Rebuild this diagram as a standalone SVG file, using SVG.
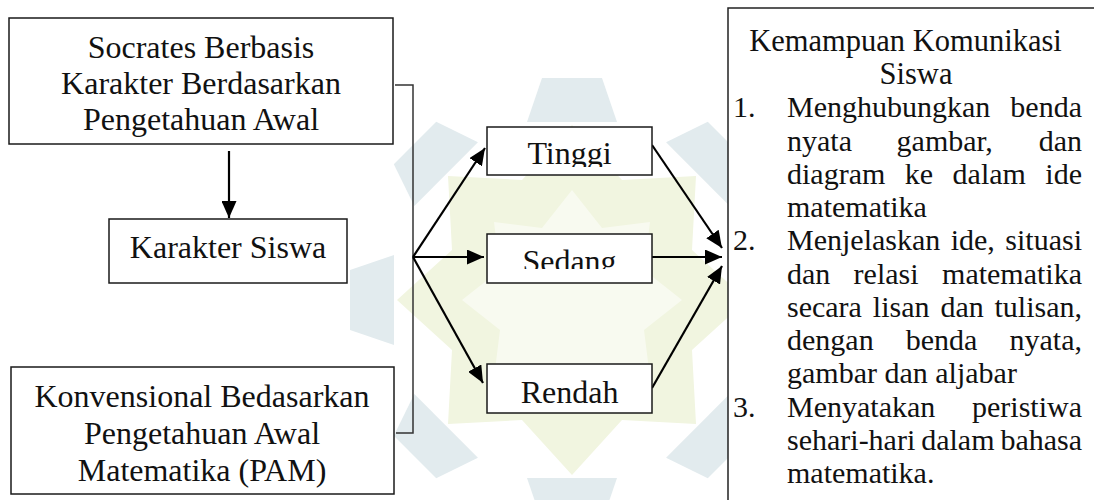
<svg xmlns="http://www.w3.org/2000/svg" width="1094" height="500" viewBox="0 0 1094 500">
<style>
.box{fill:#fff;stroke:#1a1a1a;stroke-width:1.5}
.t{font-family:"Liberation Serif","Times New Roman",serif;font-size:32px;fill:#111}
.r{font-family:"Liberation Serif","Times New Roman",serif;font-size:30px;fill:#111}
.h{font-size:30.5px}
.c{text-anchor:middle}
.e{text-anchor:end}
.ln{stroke:#000;stroke-width:2.2;fill:none}
.br{stroke:#333;stroke-width:1.5;fill:none}
.wb{fill:#e2ebee}
.wy{fill:#f1f5e0}
</style>
<defs>
<marker id="ah" markerUnits="userSpaceOnUse" markerWidth="17" markerHeight="15" viewBox="0 0 17 15" refX="17" refY="7.5" orient="auto">
<path d="M0,0 L17,7.5 L0,15 z" fill="#000"/>
</marker>
<clipPath id="clipT"><rect x="487" y="127" width="165" height="40"/></clipPath>
<clipPath id="clipS"><rect x="487" y="234" width="165" height="35"/></clipPath>
</defs>
<rect width="1094" height="500" fill="#fff"/>
<g id="watermark">
<g transform="translate(572,300)">
<polygon class="wy" points="0,-175 50,-120 124,-124 120,-50 175,0 120,50 124,124 50,120 0,175 -50,120 -124,124 -120,50 -175,0 -120,-50 -124,-124 -50,-120"/>
<polygon fill="#f8faf0" points="0,-110 30,-72 78,-78 72,-30 110,0 72,30 78,78 30,72 0,110 -30,72 -78,78 -72,30 -110,0 -72,-30 -78,-78 -30,-72"/>
<g class="wb">
<polygon points="-45,-178 45,-178 30,-222 -30,-222" transform="rotate(0)"/>
<polygon points="-45,-178 45,-178 30,-222 -30,-222" transform="rotate(45)"/>
<polygon points="-45,-178 45,-178 30,-222 -30,-222" transform="rotate(90)"/>
<polygon points="-45,-178 45,-178 30,-222 -30,-222" transform="rotate(135)"/>
<polygon points="-45,-178 45,-178 30,-222 -30,-222" transform="rotate(180)"/>
<polygon points="-45,-178 45,-178 30,-222 -30,-222" transform="rotate(225)"/>
<polygon points="-45,-178 45,-178 30,-222 -30,-222" transform="rotate(270)"/>
<polygon points="-45,-178 45,-178 30,-222 -30,-222" transform="rotate(315)"/>
</g>
</g>
</g>
<g id="connectors">
<line class="ln" x1="229" y1="151" x2="229" y2="218" marker-end="url(#ah)"/>
<polyline class="br" points="395,85 413,85 413,433 396,433"/>
<line class="ln" x1="413" y1="257" x2="485" y2="148" marker-end="url(#ah)"/>
<line class="ln" x1="413" y1="257" x2="484" y2="257" marker-end="url(#ah)"/>
<line class="ln" x1="413" y1="257" x2="483" y2="383" marker-end="url(#ah)"/>
<line class="ln" x1="652" y1="145" x2="722" y2="248" marker-end="url(#ah)"/>
<line class="ln" x1="652" y1="257" x2="722" y2="257" marker-end="url(#ah)"/>
<line class="ln" x1="652" y1="388" x2="722" y2="266" marker-end="url(#ah)"/>
</g>
<g id="socrates">
<rect class="box" x="9" y="18" width="384" height="126"/>
<text class="t c" x="201" y="58">Socrates Berbasis</text>
<text class="t c" x="201" y="94">Karakter Berdasarkan</text>
<text class="t c" x="201" y="130">Pengetahuan Awal</text>
</g>
<g id="karakter">
<rect class="box" x="109" y="219" width="238" height="64"/>
<text class="t c" x="228" y="258">Karakter Siswa</text>
</g>
<g id="konvensional">
<rect class="box" x="11" y="367" width="383" height="127"/>
<text class="t c" x="202" y="407">Konvensional Bedasarkan</text>
<text class="t c" x="202" y="444">Pengetahuan Awal</text>
<text class="t c" x="202" y="481">Matematika (PAM)</text>
</g>
<g id="tinggi">
<rect class="box" x="487" y="127" width="165" height="48"/>
<text class="t c" x="569.5" y="164" clip-path="url(#clipT)">Tinggi</text>
</g>
<g id="sedang">
<rect class="box" x="487" y="234" width="165" height="49"/>
<text class="t c" x="569.5" y="272" clip-path="url(#clipS)">Sedang</text>
</g>
<g id="rendah">
<rect class="box" x="487" y="364" width="165" height="49"/>
<text class="t c" x="569.5" y="403">Rendah</text>
</g>
<g id="kemampuan">
<rect x="728" y="8" width="370" height="500" fill="#fff"/>
<polyline class="br" style="stroke:#222" points="728,500 728,8 1094,8"/>
<text class="r h c" x="905.5" y="51">Kemampuan Komunikasi</text>
<text class="r h c" x="916" y="84">Siswa</text>
<text class="r" x="733" y="117">1.</text>
<text class="r" x="787" y="117">Menghubungkan</text><text class="r e" x="1082" y="117">benda</text>
<text class="r" x="787" y="150.5">nyata</text><text class="r" x="896.6" y="150.5">gambar,</text><text class="r e" x="1082" y="150.5">dan</text>
<text class="r" x="787" y="184">diagram</text><text class="r" x="904.8" y="184">ke</text><text class="r" x="952.6" y="184">dalam</text><text class="r e" x="1082" y="184">ide</text>
<text class="r" x="787" y="217">matematika</text>
<text class="r" x="733" y="250">2.</text>
<text class="r" x="787" y="250">Menjelaskan</text><text class="r" x="950.7" y="250">ide,</text><text class="r e" x="1082" y="250">situasi</text>
<text class="r" x="787" y="283.5">dan</text><text class="r" x="853.6" y="283.5">relasi</text><text class="r e" x="1082" y="283.5">matematika</text>
<text class="r" x="787" y="316.5">secara</text><text class="r" x="872.8" y="316.5">lisan</text><text class="r" x="940.4" y="316.5">dan</text><text class="r e" x="1082" y="316.5">tulisan,</text>
<text class="r" x="787" y="350">dengan</text><text class="r" x="905.8" y="350">benda</text><text class="r e" x="1082" y="350">nyata,</text>
<text class="r" x="787" y="383">gambar dan aljabar</text>
<text class="r" x="733" y="416.5">3.</text>
<text class="r" x="787" y="416.5">Menyatakan</text><text class="r e" x="1082" y="416.5">peristiwa</text>
<text class="r" x="787" y="449.5">sehari-hari</text><text class="r" x="921.2" y="449.5">dalam</text><text class="r e" x="1082" y="449.5">bahasa</text>
<text class="r" x="787" y="482.5">matematika.</text>
</g>
</svg>
